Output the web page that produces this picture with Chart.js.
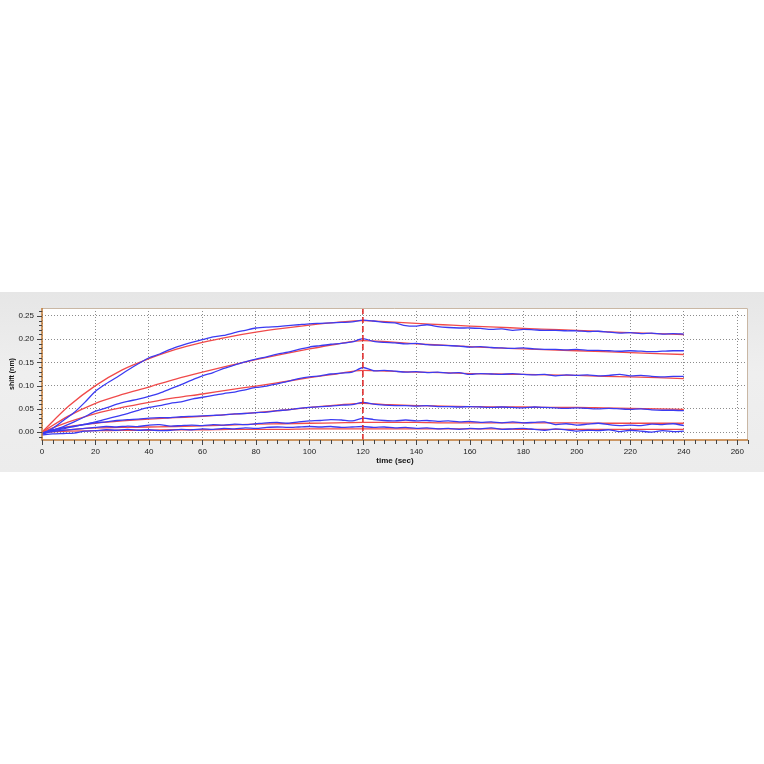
<!DOCTYPE html>
<html>
<head>
<meta charset="utf-8">
<script src="https://cdn.jsdelivr.net/npm/chart.js@4"></script>
<style>
  html, body { margin: 0; padding: 0; background: #fff; }
  body { width: 764px; height: 764px; position: relative; overflow: hidden; }
  #band {
    position: absolute; left: 0; top: 292px; width: 764px; height: 180px;
    background: linear-gradient(to bottom, #e6e6e6 0%, #efefef 45%, #ececec 100%);
  }
  #band canvas { position: absolute; left: 0; top: 0; }
</style>
</head>
<body>
<div id="band"><canvas id="myChart" width="764" height="180"></canvas></div>
<script>
// sensorgram: measured (blue) and fitted (red) curves
const timeMeasured = [];
for (let t = 0; t <= 240; t += 4) timeMeasured.push(t);
const timeFit = [0,10,20,30,40,50,60,70,80,90,100,110,120,130,140,150,160,170,180,190,200,210,220,230,240];

const measured1 = [-0.004,0.008,0.025,0.042,0.064,0.088,0.104,0.118,0.133,0.147,0.160,0.168,0.178,0.186,0.193,0.199,0.205,0.208,0.214,0.219,0.224,0.226,0.227,0.229,0.231,0.233,0.234,0.235,0.236,0.237,0.241,0.239,0.236,0.235,0.229,0.228,0.231,0.227,0.225,0.224,0.224,0.223,0.221,0.222,0.219,0.221,0.220,0.219,0.219,0.218,0.218,0.216,0.217,0.215,0.213,0.214,0.212,0.213,0.211,0.212,0.211];
const measured2 = [-0.003,0.004,0.012,0.022,0.033,0.045,0.052,0.060,0.066,0.071,0.077,0.084,0.093,0.102,0.112,0.121,0.128,0.137,0.144,0.151,0.157,0.162,0.168,0.172,0.178,0.183,0.186,0.189,0.191,0.194,0.201,0.195,0.193,0.192,0.190,0.191,0.188,0.187,0.186,0.185,0.183,0.184,0.182,0.181,0.180,0.181,0.179,0.178,0.178,0.177,0.178,0.176,0.176,0.175,0.174,0.175,0.174,0.173,0.174,0.175,0.175];
const measured3 = [-0.002,0.003,0.007,0.012,0.017,0.022,0.028,0.034,0.040,0.047,0.053,0.057,0.062,0.065,0.071,0.075,0.079,0.083,0.086,0.091,0.096,0.099,0.104,0.109,0.115,0.119,0.121,0.125,0.127,0.129,0.139,0.132,0.133,0.131,0.129,0.130,0.128,0.129,0.127,0.128,0.124,0.126,0.125,0.124,0.126,0.124,0.123,0.124,0.121,0.123,0.122,0.123,0.121,0.122,0.124,0.121,0.122,0.120,0.119,0.120,0.120];
const measured4 = [-0.002,0.004,0.009,0.013,0.016,0.020,0.022,0.025,0.027,0.028,0.030,0.031,0.031,0.033,0.034,0.035,0.036,0.037,0.039,0.040,0.042,0.043,0.046,0.048,0.051,0.053,0.055,0.056,0.058,0.059,0.064,0.060,0.058,0.057,0.057,0.056,0.057,0.055,0.055,0.054,0.055,0.054,0.053,0.054,0.053,0.052,0.054,0.053,0.052,0.051,0.052,0.051,0.050,0.051,0.050,0.049,0.050,0.048,0.047,0.047,0.046];
const measured5 = [-0.004,0.001,0.004,0.006,0.008,0.010,0.012,0.011,0.013,0.012,0.015,0.016,0.013,0.014,0.015,0.014,0.016,0.015,0.017,0.016,0.018,0.020,0.021,0.019,0.022,0.024,0.025,0.027,0.026,0.024,0.030,0.027,0.025,0.024,0.026,0.024,0.025,0.023,0.024,0.022,0.023,0.021,0.022,0.020,0.022,0.020,0.021,0.022,0.016,0.018,0.015,0.017,0.019,0.016,0.014,0.015,0.014,0.017,0.016,0.018,0.014];
const measured6 = [-0.006,-0.004,-0.003,-0.002,0.002,0.003,0.005,0.004,0.006,0.004,0.005,0.003,0.004,0.006,0.005,0.007,0.006,0.008,0.007,0.009,0.008,0.010,0.011,0.010,0.011,0.012,0.011,0.012,0.010,0.011,0.012,0.010,0.011,0.009,0.010,0.008,0.009,0.007,0.008,0.006,0.008,0.007,0.009,0.006,0.007,0.008,0.006,0.004,0.007,0.005,0.002,0.004,0.003,0.005,0.001,0.004,0.002,0.000,0.003,0.001,0.002];

const fit1 = [0,0.056,0.100,0.134,0.158,0.178,0.193,0.205,0.215,0.223,0.230,0.236,0.240,0.237,0.234,0.231,0.228,0.226,0.223,0.221,0.219,0.216,0.214,0.212,0.210];
const fit2 = [0,0.035,0.062,0.081,0.097,0.114,0.129,0.143,0.156,0.168,0.179,0.189,0.197,0.194,0.190,0.187,0.184,0.181,0.179,0.177,0.175,0.173,0.171,0.169,0.167];
const fit3 = [0,0.022,0.040,0.053,0.064,0.074,0.082,0.091,0.099,0.108,0.117,0.125,0.133,0.131,0.129,0.128,0.126,0.125,0.124,0.123,0.122,0.120,0.119,0.117,0.115];
const fit4 = [0,0.012,0.019,0.024,0.028,0.031,0.034,0.038,0.042,0.047,0.053,0.058,0.062,0.059,0.057,0.056,0.055,0.054,0.054,0.053,0.053,0.052,0.051,0.050,0.049];
const fit5 = [0,0.005,0.009,0.010,0.011,0.012,0.0135,0.015,0.017,0.018,0.019,0.020,0.021,0.021,0.021,0.020,0.020,0.020,0.020,0.020,0.020,0.019,0.019,0.019,0.019];
const fit6 = [0,0.002,0.003,0.004,0.004,0.005,0.005,0.006,0.006,0.006,0.007,0.007,0.007,0.007,0.007,0.007,0.007,0.007,0.006,0.006,0.006,0.006,0.006,0.006,0.006];

const xTicks = [0,20,40,60,80,100,120,140,160,180,200,220,240,260];
const yTicks = [0,0.05,0.10,0.15,0.20,0.25];
const yTickLabels = ['0.00','0.05','0.10','0.15','0.20','0.25'];
const dissociationStart = 120;

const measuredSets = [measured1, measured2, measured3, measured4, measured5, measured6];
const fitSets = [fit1, fit2, fit3, fit4, fit5, fit6];

const datasets = [];
measuredSets.forEach(function (vals) {
  datasets.push({
    data: vals.map(function (v, i) { return { x: timeMeasured[i], y: v }; }),
    borderColor: '#3b3bf2', borderWidth: 1.3, pointRadius: 0, tension: 0.25, fill: false
  });
});
fitSets.forEach(function (vals) {
  datasets.push({
    data: vals.map(function (v, i) { return { x: timeFit[i], y: v }; }),
    borderColor: '#f04a4a', borderWidth: 1.3, pointRadius: 0, cubicInterpolationMode: 'monotone', fill: false
  });
});

// white plot area, frame, minor ticks and the dashed line at the start of dissociation
const decorPlugin = {
  id: 'decor',
  beforeDraw(chart) {
    const ctx = chart.ctx, a = chart.chartArea;
    ctx.save();
    ctx.fillStyle = '#ffffff';
    ctx.fillRect(a.left, a.top, a.right - a.left, a.bottom - a.top);
    ctx.restore();
  },
  afterDraw(chart) {
    const ctx = chart.ctx, a = chart.chartArea;
    const xs = chart.scales.x, ys = chart.scales.y;
    ctx.save();
    // dashed vertical line
    const px = xs.getPixelForValue(dissociationStart);
    ctx.strokeStyle = '#e02424';
    ctx.lineWidth = 1.5;
    ctx.setLineDash([6, 3]);
    ctx.beginPath();
    ctx.moveTo(px, a.top);
    ctx.lineTo(px, a.bottom);
    ctx.stroke();
    ctx.setLineDash([]);
    // top / right border
    ctx.strokeStyle = '#c9b7a4';
    ctx.lineWidth = 1;
    ctx.beginPath();
    ctx.moveTo(a.left, a.top + 0.5);
    ctx.lineTo(a.right - 0.5, a.top + 0.5);
    ctx.lineTo(a.right - 0.5, a.bottom);
    ctx.stroke();
    // left / bottom axes
    ctx.strokeStyle = '#c07a36';
    ctx.lineWidth = 1.5;
    ctx.beginPath();
    ctx.moveTo(a.left, a.top);
    ctx.lineTo(a.left, a.bottom);
    ctx.lineTo(a.right, a.bottom);
    ctx.stroke();
    // tick marks
    ctx.strokeStyle = '#444';
    ctx.lineWidth = 1;
    ctx.beginPath();
    for (let t = 0; t <= 264; t += 4) {
      const x = Math.round(xs.getPixelForValue(t)) + 0.5;
      const len = (t % 20 === 0) ? 5 : 4;
      ctx.moveTo(x, a.bottom);
      ctx.lineTo(x, a.bottom + len);
    }
    for (let k = -1; k <= 26; k++) {
      const y = Math.round(ys.getPixelForValue(k / 100)) + 0.5;
      if (y < a.top || y > a.bottom) continue;
      const len = (k % 5 === 0) ? 5 : 3;
      ctx.moveTo(a.left, y);
      ctx.lineTo(a.left - len, y);
    }
    ctx.stroke();
    ctx.restore();
  }
};

const ctx = document.getElementById('myChart').getContext('2d');
new Chart(ctx, {
  type: 'line',
  data: { datasets: datasets },
  plugins: [decorPlugin],
  options: {
    responsive: false,
    animation: false,
    layout: { padding: { left: 0, right: 16, top: 16, bottom: 0 } },
    plugins: { legend: { display: false }, tooltip: { enabled: false } },
    scales: {
      x: {
        type: 'linear', min: 0, max: 264,
        afterBuildTicks: function (scale) { scale.ticks = xTicks.map(function (v) { return { value: v }; }); },
        afterFit: function (scale) { scale.height = 32; },
        ticks: { autoSkip: false, maxRotation: 0, padding: 7, color: '#222', font: { family: 'Liberation Sans, Arial', size: 8 } },
        grid: { color: '#8c8c8c', lineWidth: 1, drawTicks: false },
        border: { display: false, dash: [1, 2] },
        title: { display: true, text: 'time (sec)', color: '#111', padding: { top: 0, bottom: 6 }, font: { family: 'Liberation Sans, Arial', size: 8, weight: 'bold' } }
      },
      y: {
        type: 'linear', min: -0.017, max: 0.267,
        afterBuildTicks: function (scale) { scale.ticks = yTicks.map(function (v) { return { value: v }; }); },
        afterFit: function (scale) { scale.width = 42; },
        ticks: {
          padding: 8, color: '#222', font: { family: 'Liberation Sans, Arial', size: 8 },
          callback: function (v, i) { return yTickLabels[i]; }
        },
        grid: { color: '#8c8c8c', lineWidth: 1, drawTicks: false },
        border: { display: false, dash: [1, 2] },
        title: { display: true, text: 'shift (nm)', color: '#111', padding: { top: 8, bottom: 0 }, font: { family: 'Liberation Sans, Arial', size: 7, weight: 'bold' } }
      }
    }
  }
});
</script>
</body>
</html>
